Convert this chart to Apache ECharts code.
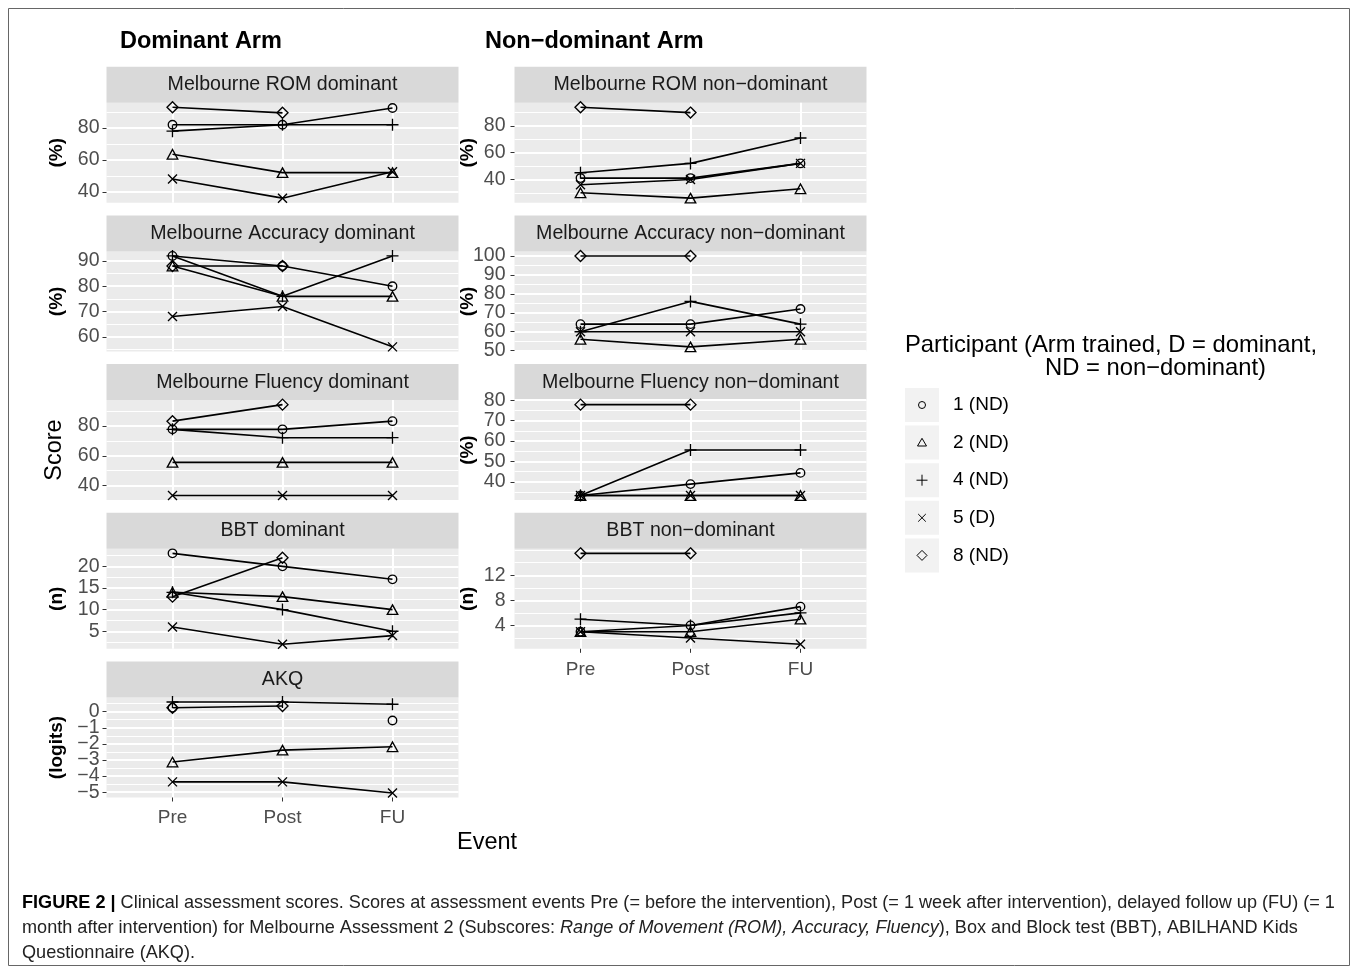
<!DOCTYPE html>
<html><head><meta charset="utf-8">
<script src="https://cdn.jsdelivr.net/npm/echarts@6/dist/echarts.min.js"></script>
<style>html,body{margin:0;padding:0;background:#fff}#c{width:1357px;height:972px}</style>
</head><body><div id="c"></div>
<script>
// ---------- data ----------
const events = ['Pre', 'Post', 'FU'];
const participants = ['1 (ND)', '2 (ND)', '4 (ND)', '5 (D)', '8 (ND)'];
// rows follow `participants`, columns follow `events`
const romDominant     = [[82, 82, 92.5], [63.5, 52, 52], [78, 82, 82], [48, 36, 52.5], [93, 89.5, null]];
const romNonDominant  = [[41, 41, 52], [30, 26, 33], [45, 52, 71], [36, 40, 52], [94, 90, null]];
const accDominant     = [[92, 88, 80], [88, 76, 76], [92, 76, 92], [68, 72, 56], [88, 88, null]];
const accNonDominant  = [[64, 64, 72], [56, 52, 56], [60, 76, 64], [60, 60, 60], [100, 100, null]];
const fluDominant     = [[77.8, 77.8, 83.3], [55.6, 55.6, 55.6], [77.8, 72.2, 72.2], [33.3, 33.3, 33.3], [83.3, 94.4, null]];
const fluNonDominant  = [[33.3, 38.9, 44.4], [33.3, 33.3, 33.3], [33.3, 55.6, 55.6], [33.3, 33.3, 33.3], [77.8, 77.8, null]];
const bbtDominant     = [[23, 20, 17], [14, 13, 10], [14, 10, 5], [6, 2, 4], [13, 22, null]];
const bbtNonDominant  = [[3, 4, 7], [3, 3, 5], [5, 4, 6], [3, 2, 1], [15.5, 15.5, null]];
const akq             = [[0.25, null, -0.55], [-3.13, -2.39, -2.18], [0.6, 0.6, 0.46], [-4.36, -4.36, -5.05], [0.25, 0.35, null]];

// tick labels
const romTicks    = [40, 60, 80];
const romNdTicks  = [40, 60, 80];
const accTicks    = [60, 70, 80, 90];
const accNdTicks  = [50, 60, 70, 80, 90, 100];
const fluTicks    = [40, 60, 80];
const fluNdTicks  = [40, 50, 60, 70, 80];
const bbtTicks    = [5, 10, 15, 20];
const bbtNdTicks  = [4, 8, 12];
const akqTicks    = [-5, -4, -3, -2, -1, 0];

const panelTitles = ['Melbourne ROM dominant', 'Melbourne ROM non\u2212dominant',
  'Melbourne Accuracy dominant', 'Melbourne Accuracy non\u2212dominant',
  'Melbourne Fluency dominant', 'Melbourne Fluency non\u2212dominant',
  'BBT dominant', 'BBT non\u2212dominant', 'AKQ'];
const panelUnits = ['(%)', '(%)', '(%)', '(%)', 'Score', '(%)', '(n)', '(n)', '(logits)'];
const panelValues = [romDominant, romNonDominant, accDominant, accNonDominant, fluDominant, fluNonDominant, bbtDominant, bbtNonDominant, akq];
const panelTicks = [romTicks, romNdTicks, accTicks, accNdTicks, fluTicks, fluNdTicks, bbtTicks, bbtNdTicks, akqTicks];

// ---------- layout / style ----------
const FONT = '"Liberation Sans", Arial, Helvetica, sans-serif';
const colLeft = [106.5, 514.5];
const panelW = 352, panelH = 100, stripH = 36, rowTop0 = 102.7, rowStep = 148.7;
const panelCol = [0, 1, 0, 1, 0, 1, 0, 1, 0];
const panelRow = [0, 0, 1, 1, 2, 2, 3, 3, 4];
const panelShowX = [false, false, false, false, false, false, false, true, true];

const symbols = ['circle', 'triangle', 'path://M0,5L10,5M5,0L5,10', 'path://M0,0L10,10M10,0L0,10', 'diamond'];
const symbolSizes = [8.5, [10.5, 9.5], 12, 9, 11];

function yRange(values) {
  const flat = values.flat().filter(v => v != null);
  const lo = Math.min(...flat), hi = Math.max(...flat);
  const pad = (hi - lo) * 0.05;
  return [lo - pad, hi + pad];
}
function minorBreaks(ticks, lo, hi) {
  const step = ticks[1] - ticks[0], half = step / 2, out = [];
  for (let v = ticks[0] - step; v <= ticks[ticks.length - 1] + step + 1e-9; v += half) {
    const r = Math.round(v * 1000) / 1000;
    if (r >= lo && r <= hi && !ticks.some(t => Math.abs(t - r) < 1e-9)) out.push(r);
  }
  return out;
}
const fmtY = v => (v < 0 ? '\u2212' + Math.abs(v) : String(v));

const grids = [], xAxes = [], yAxes = [], series = [], graphics = [];

panelValues.forEach((values, i) => {
  const left = colLeft[panelCol[i]];
  const top = rowTop0 + panelRow[i] * rowStep;
  const [lo, hi] = yRange(values);
  const ticks = panelTicks[i];
  const evenTicks = ticks.filter((t, j) => j % 2 === 0);
  const oddTicks = ticks.filter((t, j) => j % 2 === 1);
  const mins = minorBreaks(ticks, lo, hi);
  grids.push({ left, top, width: panelW, height: panelH, show: true, backgroundColor: '#EBEBEB',
    borderWidth: 0, containLabel: false, outerBoundsMode: 'none' });
  xAxes.push({
    type: 'value', gridIndex: i, min: -0.6, max: 2.6, position: 'bottom',
    axisLine: { show: false, onZero: false },
    axisTick: { show: panelShowX[i], length: 4, lineStyle: { color: '#333', width: 1 }, customValues: [0, 1, 2] },
    axisLabel: { show: panelShowX[i], customValues: [0, 1, 2], formatter: v => events[Math.round(v)],
      color: '#4D4D4D', fontSize: 19, fontFamily: FONT, margin: 11 },
    splitLine: { show: true, lineStyle: { color: '#FFFFFF', width: 2 } },
    minorTick: { show: false }, minorSplitLine: { show: false }
  });
  const isScore = panelUnits[i] === 'Score';
  const labelStyle = { formatter: fmtY, color: '#4D4D4D', fontSize: 19.5, fontFamily: FONT,
    margin: panelCol[i] === 0 ? 7 : 9, hideOverlap: false };
  // major ticks, split across two left axes (alternating) so no label is dropped
  yAxes.push({
    type: 'value', gridIndex: i, position: 'left', min: lo, max: hi,
    axisLine: { show: false, onZero: false },
    axisTick: { show: true, length: 4, lineStyle: { color: '#333', width: 1 }, customValues: evenTicks },
    axisLabel: Object.assign({ customValues: evenTicks }, labelStyle),
    splitLine: { show: true, lineStyle: { color: '#FFFFFF', width: 2 } },
    name: panelUnits[i], nameLocation: 'middle', nameRotate: 90,
    nameGap: panelCol[i] === 0 ? 40 : 37.5, nameMoveOverlap: false,
    nameTextStyle: { color: '#000', fontSize: isScore ? 23.5 : 19, fontWeight: isScore ? 'normal' : 'bold', fontFamily: FONT }
  });
  yAxes.push({
    type: 'value', gridIndex: i, position: 'left', min: lo, max: hi,
    axisLine: { show: false, onZero: false },
    axisTick: { show: true, length: 4, lineStyle: { color: '#333', width: 1 }, customValues: oddTicks },
    axisLabel: Object.assign({ customValues: oddTicks }, labelStyle),
    splitLine: { show: true, lineStyle: { color: '#FFFFFF', width: 2 } }
  });
  // minor grid lines
  yAxes.push({
    type: 'value', gridIndex: i, position: 'right', min: lo, max: hi,
    axisLine: { show: false, onZero: false },
    axisTick: { show: false, customValues: mins },
    axisLabel: { show: false, customValues: mins },
    splitLine: { show: true, lineStyle: { color: '#FFFFFF', width: 1 } }
  });
  values.forEach((row, k) => {
    series.push({
      type: 'line', name: participants[k], xAxisIndex: i, yAxisIndex: 3 * i,
      data: row.map((v, j) => [j, v == null ? '-' : v]),
      symbol: symbols[k], symbolSize: symbolSizes[k], showSymbol: true, showAllSymbol: true,
      connectNulls: false, animation: false, silent: true, clip: false,
      itemStyle: { color: 'rgba(0,0,0,0)', borderColor: '#000', borderWidth: 1.35 },
      lineStyle: { color: '#000', width: 1.6 },
      emphasis: { disabled: true }
    });
  });
  // facet strip
  graphics.push({ type: 'rect', shape: { x: left, y: top - stripH, width: panelW, height: stripH }, style: { fill: '#D9D9D9' } });
  graphics.push({ type: 'text', x: left + panelW / 2, y: top - stripH / 2,
    style: { text: panelTitles[i], fontSize: 19.6, fontFamily: FONT, fill: '#1A1A1A',
      align: 'center', verticalAlign: 'middle', textAlign: 'center', textVerticalAlign: 'middle' } });
});

function txt(x, y, text, size, weight, align, color) {
  return { type: 'text', x, y, style: { text, fontSize: size, fontWeight: weight || 'normal', fontFamily: FONT,
    fill: color || '#000', align: align || 'left', verticalAlign: 'middle', textAlign: align || 'left', textVerticalAlign: 'middle' } };
}
graphics.push(txt(120, 41.7, 'Dominant Arm', 23.5, 'bold'));
graphics.push(txt(485, 41.7, 'Non\u2212dominant Arm', 23.5, 'bold'));
graphics.push(txt(487, 843, 'Event', 23.5, 'normal', 'center'));
graphics.push(txt(905, 345, 'Participant (Arm trained, D = dominant,', 23.8));
graphics.push(txt(1045, 368, 'ND = non\u2212dominant)', 23.8));

// legend keys
function keyShape(k, cx, cy) {
  const st = { fill: 'none', stroke: '#000', lineWidth: 1 };
  if (k === 0) return { type: 'circle', shape: { cx, cy, r: 3.5 }, style: st };
  if (k === 1) return { type: 'polygon', shape: { points: [[cx, cy - 4.3], [cx + 4.5, cy + 3.4], [cx - 4.5, cy + 3.4]] }, style: st };
  if (k === 2) return { type: 'group', children: [
    { type: 'line', shape: { x1: cx - 5.5, y1: cy, x2: cx + 5.5, y2: cy }, style: st },
    { type: 'line', shape: { x1: cx, y1: cy - 5.5, x2: cx, y2: cy + 5.5 }, style: st }] };
  if (k === 3) return { type: 'group', children: [
    { type: 'line', shape: { x1: cx - 3.8, y1: cy - 3.8, x2: cx + 3.8, y2: cy + 3.8 }, style: st },
    { type: 'line', shape: { x1: cx - 3.8, y1: cy + 3.8, x2: cx + 3.8, y2: cy - 3.8 }, style: st }] };
  return { type: 'polygon', shape: { points: [[cx, cy - 5], [cx + 5, cy], [cx, cy + 5], [cx - 5, cy]] }, style: st };
}
participants.forEach((name, k) => {
  const cy = 405 + k * 37.6, cx = 922;
  graphics.push({ type: 'rect', shape: { x: 905, y: cy - 17, width: 34, height: 34 }, style: { fill: '#F2F2F2' } });
  graphics.push(keyShape(k, cx, cy));
  graphics.push(txt(953, cy, name, 19));
});

// frame and caption
graphics.push({ type: 'rect', shape: { x: 8.5, y: 8.5, width: 1341, height: 957 }, style: { fill: 'none', stroke: '#666', lineWidth: 1 } });
const CAP = 18.1;
const capRich = { b: { fontWeight: 'bold', fontSize: CAP, fontFamily: FONT, fill: '#000' },
                  i: { fontStyle: 'italic', fontSize: CAP, fontFamily: FONT, fill: '#222' } };
function cap(y, text) {
  return { type: 'text', x: 22, y, style: { text, rich: capRich, fontSize: CAP, fontFamily: FONT, fill: '#222',
    align: 'left', verticalAlign: 'middle', textAlign: 'left', textVerticalAlign: 'middle' } };
}
graphics.push(cap(903, '{b|FIGURE 2 |} Clinical assessment scores. Scores at assessment events Pre (= before the intervention), Post (= 1 week after intervention), delayed follow up (FU) (= 1'));
graphics.push(cap(928, 'month after intervention) for Melbourne Assessment 2 (Subscores: {i|Range of Movement (ROM), Accuracy, Fluency}), Box and Block test (BBT), ABILHAND Kids'));
graphics.push(cap(953, 'Questionnaire (AKQ).'));

const chart = echarts.init(document.getElementById('c'), null, { renderer: 'canvas' });
chart.setOption({
  animation: false,
  backgroundColor: '#FFFFFF',
  grid: grids, xAxis: xAxes, yAxis: yAxes, series,
  graphic: { elements: graphics }
});
</script></body></html>
